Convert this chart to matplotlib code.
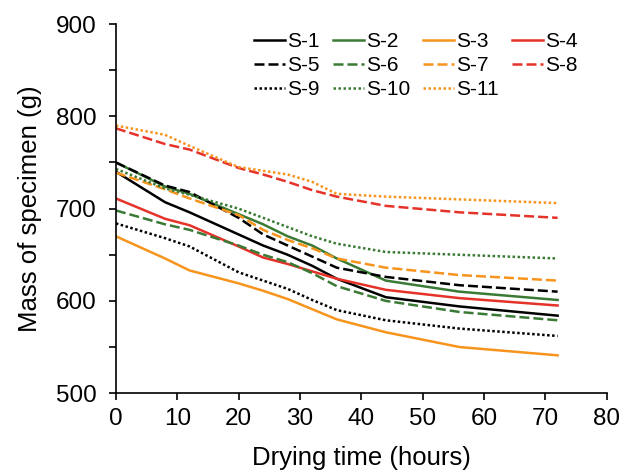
import numpy as np
import matplotlib.pyplot as plt
from matplotlib.ticker import MultipleLocator

plt.rcParams['font.family'] = ['Liberation Sans', 'DejaVu Sans']

# drying time (hours) and specimen mass (g)
hours = [0, 8, 12, 20, 24, 28, 32, 36, 44, 56, 72]
s1 = [740, 707, 696, 672, 660, 650, 638, 624, 604, 594, 584]
s2 = [750, 724, 716, 694, 683, 670, 660, 646, 622, 610, 601]
s3 = [670, 646, 633, 619, 611, 602, 591, 580, 566, 550, 541]
s4 = [711, 689, 682, 659, 647, 640, 632, 624, 612, 603, 595]
s5 = [750, 725, 718, 690, 672, 660, 648, 636, 626, 617, 610]
s6 = [698, 683, 677, 660, 650, 642, 630, 616, 600, 588, 579]
s7 = [739, 721, 711, 693, 677, 666, 657, 646, 636, 628, 622]
s8 = [787, 770, 764, 744, 737, 729, 720, 713, 703, 696, 690]
s9 = [684, 668, 659, 631, 622, 613, 601, 590, 579, 570, 562]
s10 = [743, 722, 715, 700, 690, 680, 670, 662, 653, 650, 646]
s11 = [790, 780, 768, 745, 741, 737, 729, 716, 713, 710, 706]

labels = ['S-%d' % i for i in range(1, 12)]
series = [s1, s2, s3, s4, s5, s6, s7, s8, s9, s10, s11]

black = 'black'
green = '#3a7a35'
orange = '#f7941d'
red = '#e5332a'
colors = [black, green, orange, red] * 3
styles = ['-'] * 4 + [(0, (4, 1.6))] * 4 + [(0, (1, 1))] * 3

fig = plt.figure(figsize=(6.3, 4.72), dpi=100)
ax = fig.add_axes([0.184, 0.167, 0.779, 0.782])

lines = []
for y, lab, c, ls in zip(series, labels, colors, styles):
  ln, = ax.plot(hours, y, color=c, linestyle=ls, linewidth=1.8, label=lab)
  lines.append(ln)

ax.set_xlim(0, 80)
ax.set_ylim(500, 900)
ax.xaxis.set_major_locator(MultipleLocator(10))
ax.yaxis.set_major_locator(MultipleLocator(100))
ax.yaxis.set_minor_locator(MultipleLocator(50))
ax.spines['top'].set_visible(False)
ax.spines['right'].set_visible(False)
for sp in ['left', 'bottom']:
  ax.spines[sp].set_linewidth(1.2)
ax.tick_params(which='both', direction='out', labelsize=17.5, width=1.2, length=5)
ax.tick_params(axis='x', pad=6)
ax.tick_params(axis='y', pad=9)

ax.set_xlabel('Drying time (hours)', fontsize=18.5, labelpad=11)
ax.set_ylabel('Mass of specimen (g)', fontsize=18.5, labelpad=10)

# reorder so the legend reads row by row
order = [0, 4, 8, 1, 5, 9, 2, 6, 10, 3, 7]
ax.legend([lines[i] for i in order], [labels[i] for i in order],
          ncol=4, frameon=False, fontsize=15, handlelength=1.5,
          handletextpad=0.1, columnspacing=0.62, labelspacing=0.25,
          borderpad=0, borderaxespad=0,
          loc='upper left', bbox_to_anchor=(0.281, 0.979))

fig.savefig('out.png', dpi=100)
